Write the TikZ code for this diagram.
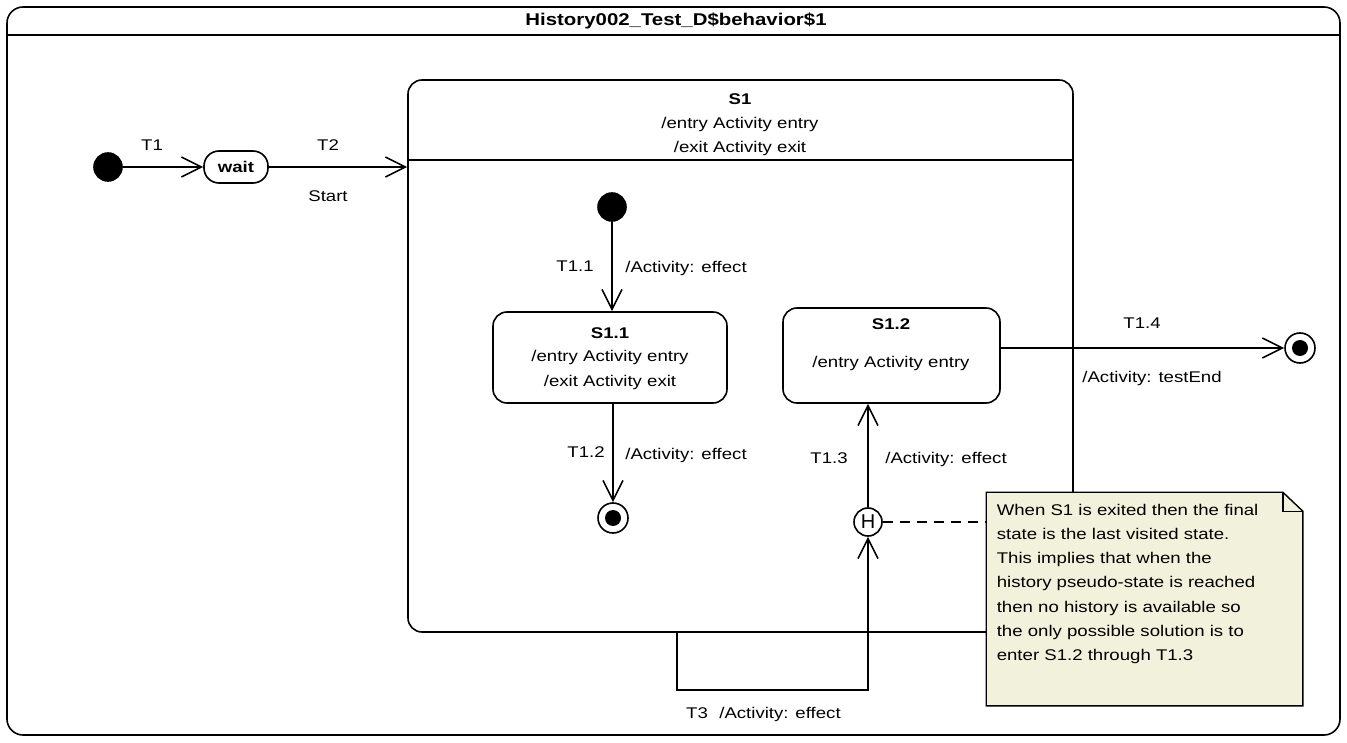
\documentclass[tikz,border=0pt]{standalone}
\usepackage{fontspec}
\setmainfont{Liberation Sans}[FakeStretch=1.2]
\newfontfamily\hfont{Liberation Sans}
\usetikzlibrary{arrows.meta,calc}
\definecolor{notefill}{RGB}{242,242,220}
\begin{document}
\begin{tikzpicture}[x=1pt,y=-1pt,
  font=\fontsize{15.5}{24.3}\selectfont,
  line width=1.6pt,
  arr/.style={-{Straight Barb[length=20pt,width=20pt,line width=1.6pt]}},
  lbl/.style={inner sep=0pt},
  statebox/.style={draw,rounded corners=14pt,inner sep=0pt},
  initdot/.style={circle,fill=black,draw,inner sep=0pt,minimum size=28pt},
  finaldot/.style={circle,draw,fill=white,inner sep=0pt,minimum size=30pt,
     path picture={\fill[black] (path picture bounding box.center) circle (8pt);}},
]
\useasboundingbox (0,0) rectangle (1347,743);
% outer frame
\node[statebox,rounded corners=16pt,minimum width=1333pt,minimum height=728pt] (frame) at (673.5,371) {};
\coordinate (titley) at (0,35);
\draw (frame.west |- titley) -- (frame.east |- titley);
\node[lbl,font=\fontsize{17}{20}\selectfont\bfseries] (title) at (676,21) {History002\_Test\_D\$behavior\$1};

% left part
\node[initdot] (init) at (108,167) {};
\node[statebox,rounded corners=15pt,minimum width=64pt,minimum height=32pt,font=\fontsize{15.5}{20}\selectfont\bfseries] (wait) at (236,167) {wait};
\node[lbl] (t1) at (152,145) {T1};
\node[lbl] (t2) at (328,145) {T2};
\node[lbl] (start) at (328,196) {Start};

% S1
\node[statebox,minimum width=665pt,minimum height=552pt] (S1) at (740.5,356) {};
\coordinate (hdry) at (0,160);
\draw (S1.west |- hdry) -- (S1.east |- hdry);
\node[lbl,font=\fontsize{15.5}{20}\selectfont\bfseries] (S1name) at (740,99) {S1};
\node[lbl] (S1entry) at (740,124) {/entry Activity entry};
\node[lbl] (S1exit) at (740,148) {/exit Activity exit};

\draw[arr] (init) -- (wait);
\draw[arr] (wait.east) -- (wait.east -| S1.west);

% inner
\node[initdot] (init2) at (612,207) {};
\node[statebox,minimum width=234pt,minimum height=91pt] (S11) at (610,357.5) {};
\node[lbl,font=\fontsize{15.5}{20}\selectfont\bfseries] (S11name) at (610,333) {S1.1};
\node[lbl] (S11entry) at (610,357) {/entry Activity entry};
\node[lbl] (S11exit) at (610,382) {/exit Activity exit};

\node[statebox,minimum width=217pt,minimum height=95pt] (S12) at (891.5,355.5) {};
\node[lbl,font=\fontsize{15.5}{20}\selectfont\bfseries] (S12name) at (891,324) {S1.2};
\node[lbl] (S12entry) at (891,363) {/entry Activity entry};

\node[finaldot] (fin1) at (613,518) {};
\node[finaldot] (fin2) at (1300,348) {};
\node[circle,draw,fill=white,inner sep=0pt,minimum size=28pt,font=\hfont\fontsize{20}{20}\selectfont] (H) at (868,522) {H};

\draw[arr] (init2.south) -- (init2.south |- S11.north);
\node[lbl] (t11) at (575,266) {T1.1};
\node[lbl] (t11e) at (686,268) {/Activity: effect};

\draw[arr] (fin1.north |- S11.south) -- (fin1.north);
\node[lbl] (t12) at (586,452) {T1.2};
\node[lbl] (t12e) at (686,455) {/Activity: effect};

\draw[arr] (H.north) -- (H.north |- S12.south);
\node[lbl] (t13) at (829,458) {T1.3};
\node[lbl] (t13e) at (946,459) {/Activity: effect};

\draw[arr] (S12.east |- fin2) -- (fin2.west);
\node[lbl] (t14) at (1142,323) {T1.4};
\node[lbl] (t14e) at (1152,378) {/Activity: testEnd};

% T3
\coordinate (t3x) at (677,0);
\draw[arr] (S1.south -| t3x) -- ++(0,57) -| (H.south);
\node[lbl] (t3) at (697,713) {T3};
\node[lbl] (t3e) at (780,714) {/Activity: effect};

% note
\node[inner sep=0pt,minimum width=315pt,minimum height=212pt] (note) at (1144.5,599) {};
\draw[fill=notefill,line width=1.4pt] (note.south west) -- (note.north west) -- ($(note.north east)+(-20,0)$) -- ($(note.north east)+(0,19)$) -- (note.south east) -- cycle;
\draw[line width=1.4pt] ($(note.north east)+(-20,0)$) -- ($(note.north east)+(-20,19)$) -- ($(note.north east)+(0,19)$);
\node[anchor=north west,inner sep=0pt,align=left] (notetext) at (996,503) {When S1 is exited then the final\\state is the last visited state.\\This implies that when the\\history pseudo-state is reached\\then no history is available so\\the only possible solution is to\\enter S1.2 through T1.3};
\draw[dashed,dash pattern=on 10pt off 7pt] (H.east) -- (H.east -| note.west);
\end{tikzpicture}
\end{document}
